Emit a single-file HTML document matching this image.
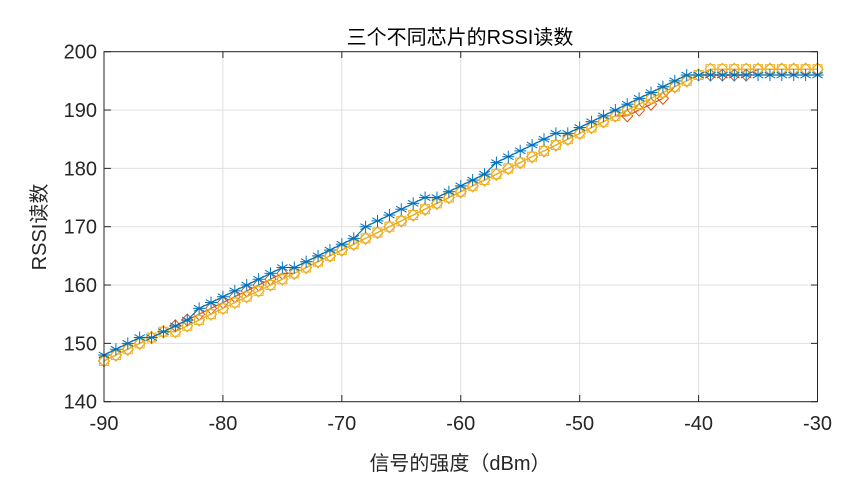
<!DOCTYPE html>
<html><head><meta charset="utf-8"><style>
body{margin:0;background:#fff}
</style></head><body>
<svg id="s" width="857" height="486" xmlns="http://www.w3.org/2000/svg" font-family="Liberation Sans, Noto Sans CJK SC, sans-serif">
<rect width="857" height="486" fill="#fff"/>
<g id="grid" stroke="#dfdfdf" stroke-width="1"></g>
<g id="data"></g>
<rect x="104" y="51.7" width="713.5" height="350" fill="none" stroke="#262626" stroke-width="1"/>
<g id="ticks" fill="#262626" font-size="20"></g>
<text x="460" y="44" text-anchor="middle" font-size="20" fill="#000">三个不同芯片的RSSI读数</text>
<text x="460" y="470" text-anchor="middle" font-size="20" fill="#262626">信号的强度（dBm）</text>
<text transform="translate(46,227) rotate(-90)" text-anchor="middle" font-size="20" fill="#262626">RSSI读数</text>
</svg>
<script>
const X=v=>104+(v+90)*713.5/60, Y=v=>401.7-(v-140)*350/60;
const ns="http://www.w3.org/2000/svg";
function el(p,t,a){const e=document.createElementNS(ns,t);for(const k in a)e.setAttribute(k,a[k]);p.appendChild(e);return e;}
const g=document.getElementById('grid'),tk=document.getElementById('ticks'),d=document.getElementById('data');
for(let v=-90;v<=-30;v+=10){el(g,'line',{x1:X(v),x2:X(v),y1:51.7,y2:401.7});
 el(tk,'line',{x1:X(v),x2:X(v),y1:401.7,y2:395,stroke:'#262626'});el(tk,'line',{x1:X(v),x2:X(v),y1:51.7,y2:58,stroke:'#262626'});
 el(tk,'text',{x:X(v),y:430,'text-anchor':'middle'}).textContent=v;}
for(let v=140;v<=200;v+=10){el(g,'line',{x1:104,x2:817.5,y1:Y(v),y2:Y(v)});
 el(tk,'line',{x1:104,x2:111,y1:Y(v),y2:Y(v),stroke:'#262626'});el(tk,'line',{x1:811,x2:817.5,y1:Y(v),y2:Y(v),stroke:'#262626'});
 el(tk,'text',{x:97,y:Y(v)+7,'text-anchor':'end'}).textContent=v;}
function interp(pts,x){for(let i=0;i<pts.length-1;i++){const[a,b]=pts[i],[c,e]=pts[i+1];if(x>=a&&x<=c)return Math.round(b+(e-b)*(x-a)/(c-a));}return pts[pts.length-1][1];}
const blue=[[-90,148],[-84,153],[-80,158],[-70,167],[-66,172],[-60,177],[-54,184],[-50,187],[-45,192],[-42,195],[-40,196],[-30,196]];
const red=[[-90,147],[-80,157],[-70,166],[-60,176],[-50,186],[-44,191],[-41,195],[-40,196],[-36,196],[-35,197],[-30,197]];
const yel=[[-90,147],[-80,156],[-70,166],[-60,176],[-50,186],[-43,193],[-40,196],[-38,197],[-30,197]];
function series(pts,col,mk){const xs=[];for(let x=-90;x<=-30;x++){const y=interp(pts,x);xs.push([X(x),Y(y)]);}
 el(d,'polyline',{points:xs.map(q=>q.join(',')).join(' '),fill:'none',stroke:col,'stroke-width':1.2});
 for(const[x,y]of xs){if(mk=='s')el(d,'rect',{x:x-4.5,y:y-4.5,width:9,height:9,fill:'none',stroke:col});
 else if(mk=='d')el(d,'path',{d:`M${x},${y-6}L${x+5.5},${y}L${x},${y+6}L${x-5.5},${y}Z`,fill:'none',stroke:col});
 else{for(let a=0;a<3;a++){const t=a*Math.PI/3+Math.PI/2,c=Math.cos(t)*6,s=Math.sin(t)*6;el(d,'line',{x1:x-c,y1:y-s,x2:x+c,y2:y+s,stroke:col});}el(d,'line',{x1:x-6,x2:x+6,y1:y,y2:y,stroke:col});}}}
series(red,'#d95319','d');series(yel,'#edb120','s');series(yel,'#edb120','d');series(blue,'#0072bd','*');
</script>
</body></html>
